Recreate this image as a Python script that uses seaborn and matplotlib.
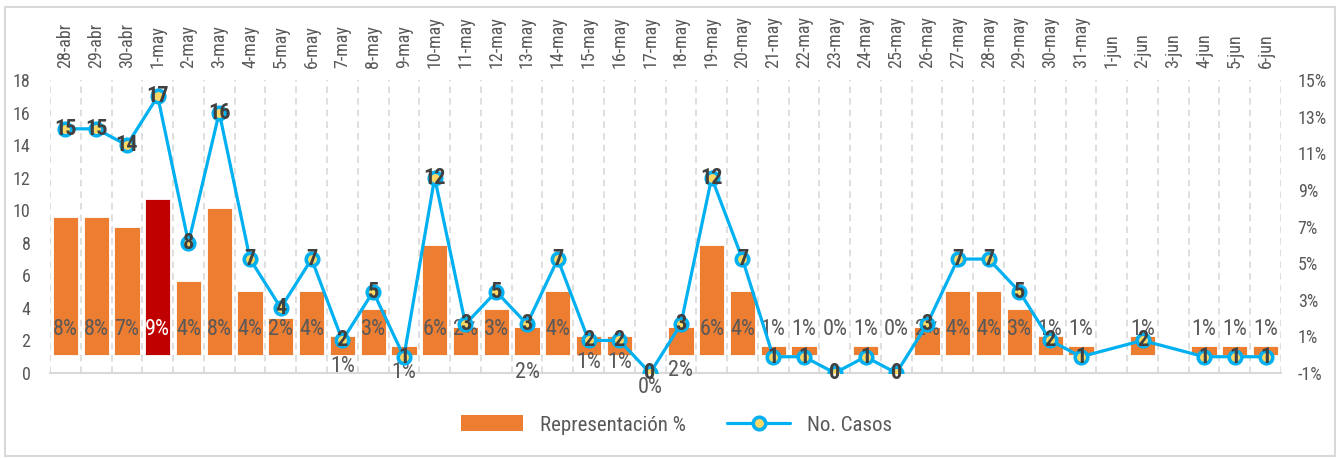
"""
Casos diarios y representación porcentual (28-abr a 6-jun)
"""
import matplotlib
matplotlib.use("Agg")
import matplotlib.pyplot as plt
from matplotlib import font_manager
from matplotlib.patches import Patch, Rectangle
from matplotlib.lines import Line2D
import seaborn as sns
import pandas as pd
import numpy as np

sns.set_style("white")

# pick a narrow font if one is installed, otherwise Liberation Sans
nombres = {(f.name, f.stretch) for f in font_manager.fontManager.ttflist}
fuente, estrecha = "Liberation Sans", False
for nombre in ["Liberation Sans Narrow", "Roboto Condensed", "Open Sans Condensed"]:
    if any(n == nombre for n, _ in nombres):
        fuente, estrecha = nombre, True
        break
else:
    if ("DejaVu Sans", "condensed") in nombres or ("DejaVu Sans", 87.5) in nombres:
        fuente, estrecha = "DejaVu Sans", True
        plt.rcParams["font.stretch"] = "condensed"
plt.rcParams["font.family"] = [fuente, "DejaVu Sans"]
tam = 16 if estrecha else 12.5

nan = np.nan

# data
fechas = ["28-abr", "29-abr", "30-abr", "1-may", "2-may", "3-may", "4-may", "5-may",
          "6-may", "7-may", "8-may", "9-may", "10-may", "11-may", "12-may", "13-may",
          "14-may", "15-may", "16-may", "17-may", "18-may", "19-may", "20-may", "21-may",
          "22-may", "23-may", "24-may", "25-may", "26-may", "27-may", "28-may", "29-may",
          "30-may", "31-may", "1-jun", "2-jun", "3-jun", "4-jun", "5-jun", "6-jun"]
casos = [15, 15, 14, 17, 8, 16, 7, 4, 7, 2, 5, 1, 12, 3, 5, 3, 7, 2, 2, 0,
         3, 12, 7, 1, 1, 0, 1, 0, 3, 7, 7, 5, 2, 1, nan, 2, nan, 1, 1, 1]
representacion = [7.5, 7.5, 7.0, 8.5, 4.0, 8.0, 3.5, 2.0, 3.5, 1.0, 2.5, 0.5, 6.0, 1.5,
                  2.5, 1.5, 3.5, 1.0, 1.0, 0.0, 1.5, 6.0, 3.5, 0.5, 0.5, 0.0, 0.5, 0.0,
                  1.5, 3.5, 3.5, 2.5, 1.0, 0.5, nan, 1.0, nan, 0.5, 0.5, 0.5]

NARANJA = "#ED7D31"
ROJO = "#C00000"
AZUL = "#00B0F0"
AMARILLO = "#FFD966"
GRIS = "#595959"
GRID = "#D9D9D9"

df = pd.DataFrame({"fecha": fechas, "casos": casos, "pct": representacion})
df["pos"] = np.arange(len(df))
i_max = int(df["pct"].idxmax())
colores = {f: (ROJO if i == i_max else NARANJA) for i, f in enumerate(fechas)}

fig = plt.figure(figsize=(13.39, 4.58), dpi=100)
ax = fig.add_axes([50 / 1339, 1 - 373 / 458, (1281 - 50) / 1339, (373 - 80) / 458])

# bars (percent, right axis)
sns.barplot(data=df, x="fecha", y="pct", hue="fecha", palette=colores, order=fechas,
            legend=False, errorbar=None, width=0.82, saturation=1, edgecolor="white",
            linewidth=0.6, ax=ax)
ax2 = ax.twinx()

# line (cases, left axis)
linea = df.dropna(subset=["casos"])
sns.lineplot(data=linea, x="pos", y="casos", sort=False, estimator=None, color=AZUL,
             linewidth=2.3, marker="o", markersize=9, markerfacecolor=AMARILLO,
             markeredgecolor=AZUL, markeredgewidth=2.6, ax=ax2)

ax.set_xlim(-0.5, len(fechas) - 0.5)
ax.set_ylim(-1, 15)
ax.set_yticks(np.arange(-1, 16, 2))
ax.set_yticklabels([f"{v}%" for v in range(-1, 16, 2)])
ax2.set_ylim(0, 18)
ax2.set_yticks(np.arange(0, 19, 2))

ax.yaxis.tick_right()
ax2.yaxis.tick_left()
ax.xaxis.tick_top()
ax.set_xticks(range(len(fechas)))
ax.set_xticklabels(fechas, rotation=90)
ax.tick_params(axis="x", length=0, pad=9, labelsize=13, labelcolor=GRIS)
ax.tick_params(axis="y", length=0, pad=12, labelsize=13, labelcolor=GRIS)
ax2.tick_params(axis="y", length=0, pad=14, labelsize=13, labelcolor=GRIS)
for a in (ax, ax2):
    a.set_xlabel("")
    a.set_ylabel("")
    for s in a.spines.values():
        s.set_visible(False)
ax.spines["bottom"].set_visible(True)
ax.spines["bottom"].set_color(GRID)
ax.spines["bottom"].set_linewidth(1.5)

# dashed category separators
ax.set_xticks(np.arange(-0.5, len(fechas), 1), minor=True)
ax.tick_params(axis="x", which="minor", length=0)
ax.grid(which="minor", axis="x", color=GRID, linestyle=(0, (4, 3)), linewidth=1.2)
ax.grid(which="major", visible=False)
ax.set_axisbelow(True)

# bar labels (some moved below the base, as in the original)
y_etiqueta = {9: -0.65, 11: -1.0, 15: -0.95, 17: -0.45, 18: -0.45, 19: -1.8, 20: -0.85}
for i, v in enumerate(representacion):
    if np.isnan(v):
        continue
    texto = f"{int(v + 0.5)}%"
    ax.text(i, y_etiqueta.get(i, 1.35), texto, ha="center", va="center", fontsize=tam,
            color="white" if i == i_max else GRIS, clip_on=False, zorder=3)

# case labels on markers
for i, v in enumerate(casos):
    if np.isnan(v):
        continue
    ax2.text(i, v, f"{int(v)}", ha="center", va="center", fontsize=tam,
             fontweight="bold", color="#404040", zorder=5, clip_on=False)

# legend
handles = [Patch(facecolor=NARANJA, edgecolor="none"),
           Line2D([], [], color=AZUL, linewidth=2.3, marker="o", markersize=9,
                  markerfacecolor=AMARILLO, markeredgecolor=AZUL, markeredgewidth=2.6)]
fig.legend(handles, ["Representación %", "No. Casos"], loc="center", ncol=2,
           bbox_to_anchor=(0.505, 0.072), frameon=False, fontsize=15,
           labelcolor=GRIS, handlelength=3.0, handleheight=0.8, columnspacing=2.0)

# chart border
fig.patches.append(Rectangle((5 / 1339, 2 / 458), 1330 / 1339, 449 / 458,
                             transform=fig.transFigure, fill=False,
                             edgecolor=GRID, linewidth=1.5))

plt.savefig("out.png", dpi=100)
